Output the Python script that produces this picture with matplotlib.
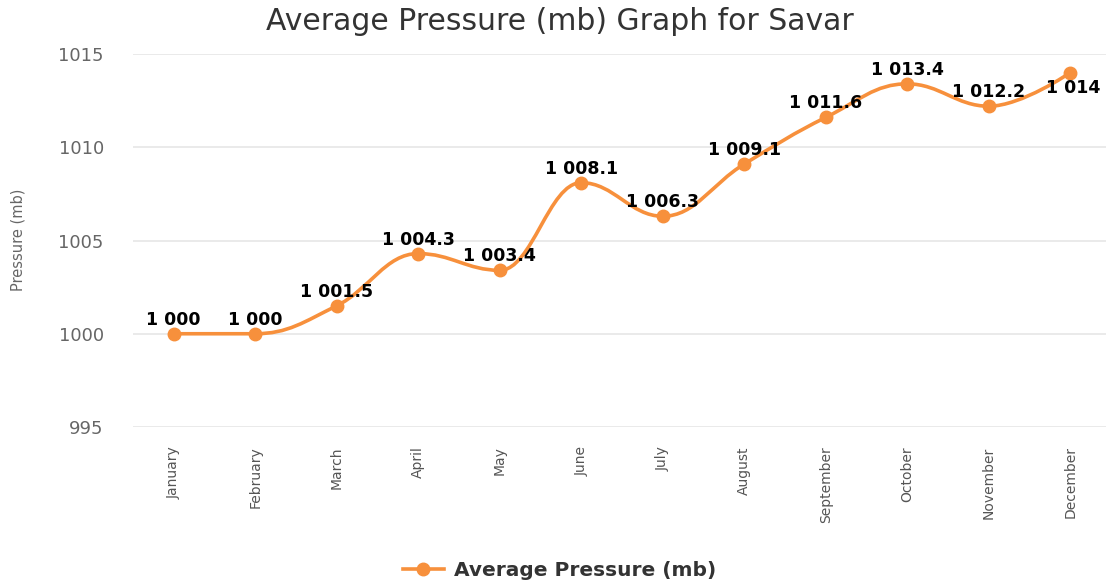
import matplotlib
matplotlib.use("Agg")
import matplotlib.pyplot as plt
from matplotlib.path import Path
from matplotlib.patches import PathPatch
from matplotlib.lines import Line2D
from matplotlib import font_manager
import numpy as np

months = ["January", "February", "March", "April", "May", "June", "July",
          "August", "September", "October", "November", "December"]
pressure = [1000, 1000, 1001.5, 1004.3, 1003.4, 1008.1, 1006.3, 1009.1,
            1011.6, 1013.4, 1012.2, 1014]
point_labels = ["1 000", "1 000", "1 001.5", "1 004.3", "1 003.4", "1 008.1",
                "1 006.3", "1 009.1", "1 011.6", "1 013.4", "1 012.2", "1 014"]
y_ticks = [995, 1000, 1005, 1010, 1015]

title = "Average Pressure (mb) Graph for Savar"
y_title = "Pressure (mb)"
series_name = "Average Pressure (mb)"

ORANGE = "#F7903C"

installed = {f.name for f in font_manager.fontManager.ttflist}
NARROW = "Liberation Sans Narrow" if "Liberation Sans Narrow" in installed else "DejaVu Sans"
narrow_size_x = 12 if NARROW != "DejaVu Sans" else 10
narrow_size_y = 12 if NARROW != "DejaVu Sans" else 10.5


def spline_path(xs, ys, smoothing=1.5):
    """Highcharts-style spline through the points, as cubic Bezier path."""
    n = len(xs)
    lc = [(x, y) for x, y in zip(xs, ys)]
    rc = [(x, y) for x, y in zip(xs, ys)]
    denom = smoothing + 1
    for i in range(1, n - 1):
        px, py = xs[i], ys[i]
        lx, ly = xs[i - 1], ys[i - 1]
        nx, ny = xs[i + 1], ys[i + 1]
        lcx = (smoothing * px + lx) / denom
        lcy = (smoothing * py + ly) / denom
        rcx = (smoothing * px + nx) / denom
        rcy = (smoothing * py + ny) / denom
        if rcx != lcx:
            corr = (rcy - lcy) * (rcx - px) / (rcx - lcx) + py - rcy
            lcy += corr
            rcy += corr
            if lcy > ly and lcy > py:
                lcy = max(ly, py); rcy = 2 * py - lcy
            elif lcy < ly and lcy < py:
                lcy = min(ly, py); rcy = 2 * py - lcy
            if rcy > ny and rcy > py:
                rcy = max(ny, py); lcy = 2 * py - rcy
            elif rcy < ny and rcy < py:
                rcy = min(ny, py); lcy = 2 * py - rcy
        lc[i] = (lcx, lcy)
        rc[i] = (rcx, rcy)
    verts = [(xs[0], ys[0])]
    codes = [Path.MOVETO]
    for i in range(1, n):
        verts += [rc[i - 1], lc[i], (xs[i], ys[i])]
        codes += [Path.CURVE4] * 3
    return Path(verts, codes)


fig = plt.figure(figsize=(11.06, 5.82), dpi=100)
ax = fig.add_axes([133 / 1106, 1 - 427 / 582, (1111 - 133) / 1106, (427 - 54) / 582])

x = np.arange(len(months))
ax.set_xlim(-0.5, len(months) - 0.5)
ax.set_ylim(995, 1015)

for yt in y_ticks:
    ax.axhline(yt, color="#e6e6e6", lw=1.2, zorder=0)

path = spline_path(list(x.astype(float)), pressure)
ax.add_patch(PathPatch(path, fill=False, edgecolor=ORANGE, lw=2.6,
                       capstyle="round", joinstyle="round", zorder=2, clip_on=False))
ax.plot(x, pressure, ls="none", marker="o", ms=9, color=ORANGE, zorder=3, clip_on=False)

offsets = [14] * len(months)
xoffs = [0] * len(months)
offsets[-1] = -15
xoffs[-1] = 3
for xi, yi, lab, oy, ox in zip(x, pressure, point_labels, offsets, xoffs):
    ax.annotate(lab, (xi, yi), xytext=(ox, oy), textcoords="offset pixels",
                ha="center", va="center", fontsize=12.5, fontweight="bold",
                color="#000000", zorder=4, annotation_clip=False)

for s in ax.spines.values():
    s.set_visible(False)

ax.set_yticks(y_ticks)
ax.set_yticklabels([str(v) for v in y_ticks])
ax.tick_params(axis="y", length=0, pad=21, labelsize=13, labelcolor="#666666")
ax.set_xticks(x)
ax.set_xticklabels(months, rotation=90, ha="center", va="top", family=NARROW)
ax.tick_params(axis="x", length=0, pad=14, labelsize=narrow_size_x, labelcolor="#555555")

fig.text(0.506, 1 - 21 / 582, title, ha="center", va="center",
         fontsize=21.5, color="#333333")
fig.text(18 / 1106, 1 - 240 / 582, y_title, rotation=90, ha="center", va="center",
         fontsize=narrow_size_y, color="#666666", family=NARROW)

handle = Line2D([], [], color=ORANGE, lw=2.6, marker="o", ms=9)
leg = fig.legend([handle], [series_name], loc="center",
                 bbox_to_anchor=(0.506, 1 - 571 / 582), frameon=False,
                 handlelength=2.0, handletextpad=0.5,
                 prop={"weight": "bold", "size": 14.5})
for t in leg.get_texts():
    t.set_color("#333333")

fig.savefig("out.png", dpi=100)
